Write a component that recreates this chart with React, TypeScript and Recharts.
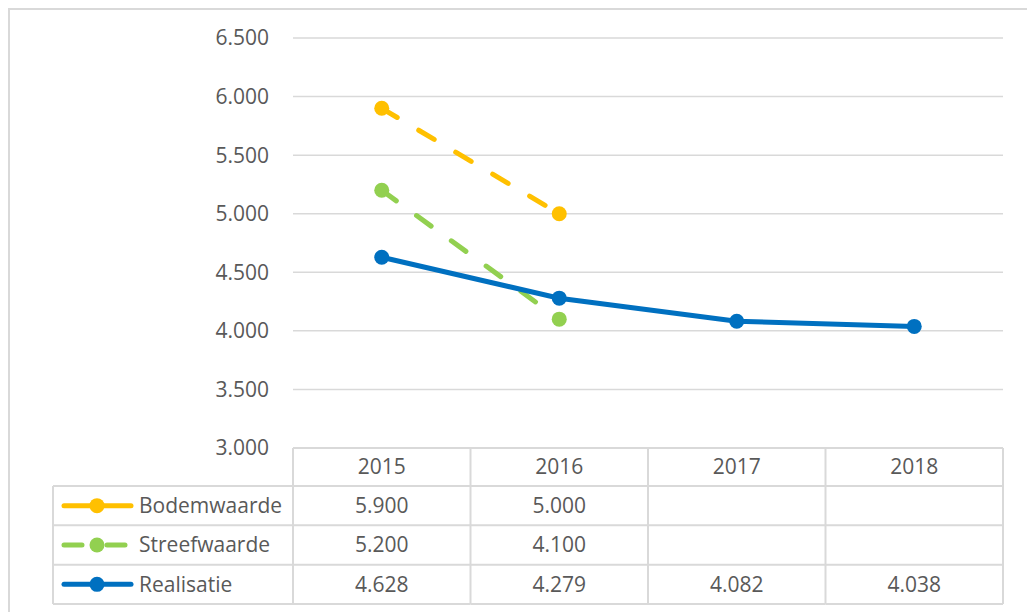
import React from 'react';
import { LineChart, Line, XAxis, YAxis, CartesianGrid } from 'recharts';

const years = ['2015', '2016', '2017', '2018'];
const bodemwaarde = [5900, 5000, null, null];
const streefwaarde = [5200, 4100, null, null];
const realisatie = [4628, 4279, 4082, 4038];
const yTicks = [3000, 3500, 4000, 4500, 5000, 5500, 6000, 6500];

// keyDashed: in the table legend only Streefwaarde is drawn dashed
const series = [
  { key: 'bodemwaarde', name: 'Bodemwaarde', values: bodemwaarde, color: '#FFC000', dashed: true, keyDashed: false },
  { key: 'streefwaarde', name: 'Streefwaarde', values: streefwaarde, color: '#92D050', dashed: true, keyDashed: true },
  { key: 'realisatie', name: 'Realisatie', values: realisatie, color: '#0070C0', dashed: false, keyDashed: false },
];

const data = years.map((year, i) => ({
  year,
  bodemwaarde: bodemwaarde[i],
  streefwaarde: streefwaarde[i],
  realisatie: realisatie[i],
}));

const WIDTH = 1017;
const HEIGHT = 602;
const Y_AXIS_W = 283;
const MARGIN = { top: 28, right: 24, left: 0, bottom: 0 };
const PLOT_W = WIDTH - Y_AXIS_W - MARGIN.right;
const COL_W = PLOT_W / years.length;
const LABEL_W = 240;
const HEADER_H = 38;
const ROW_H = 39.33;
const TABLE_H = HEADER_H + ROW_H * series.length;
const FONT = '"Open Sans", "Noto Sans", sans-serif';
const TEXT = '#595959';
const GRID = '#d9d9d9';
const DASH = '18 25';

const fmt = (v: number) => `${Math.floor(v / 1000)}.${String(v % 1000).padStart(3, '0')}`;

const LabelColumn = ({ left, y }: { left: number; y: number }) => {
  const tableLeft = left - LABEL_W;
  return (
    <g>
      <line x1={tableLeft} y1={y + HEADER_H} x2={tableLeft} y2={y + TABLE_H} stroke={GRID} strokeWidth={2} />
      {series.map((s, r) => {
        const top = y + HEADER_H + r * ROW_H;
        const cy = top + ROW_H / 2;
        return (
          <g key={s.key}>
            <line x1={tableLeft} y1={top} x2={left} y2={top} stroke={GRID} strokeWidth={2} />
            <line
              x1={tableLeft + 11}
              y1={cy}
              x2={tableLeft + 78}
              y2={cy}
              stroke={s.color}
              strokeWidth={5}
              strokeLinecap="round"
              strokeDasharray={s.keyDashed ? DASH : undefined}
            />
            <circle cx={tableLeft + 44} cy={cy} r={7.5} fill={s.color} />
            <text x={tableLeft + 86} y={cy} dy="0.35em" fill={TEXT} fontSize={21} fontFamily={FONT}>
              {s.name}
            </text>
          </g>
        );
      })}
      <line x1={tableLeft} y1={y + TABLE_H} x2={left} y2={y + TABLE_H} stroke={GRID} strokeWidth={2} />
    </g>
  );
};

const TableColumn = (props: any) => {
  const { x, y, index, payload } = props;
  const left = x - COL_W / 2;
  const right = x + COL_W / 2;
  return (
    <g>
      {index === 0 && <LabelColumn left={left} y={y} />}
      <line x1={left} y1={y} x2={left} y2={y + TABLE_H} stroke={GRID} strokeWidth={2} />
      {index === years.length - 1 && (
        <line x1={right} y1={y} x2={right} y2={y + TABLE_H} stroke={GRID} strokeWidth={2} />
      )}
      {series.map((s, r) => (
        <line
          key={s.key}
          x1={left}
          y1={y + HEADER_H + r * ROW_H}
          x2={right}
          y2={y + HEADER_H + r * ROW_H}
          stroke={GRID}
          strokeWidth={2}
        />
      ))}
      <line x1={left} y1={y + TABLE_H} x2={right} y2={y + TABLE_H} stroke={GRID} strokeWidth={2} />
      <text x={x} y={y + HEADER_H / 2} dy="0.35em" textAnchor="middle" fill={TEXT} fontSize={21} fontFamily={FONT}>
        {payload.value}
      </text>
      {series.map((s, r) => {
        const v = s.values[index];
        if (v == null) return null;
        return (
          <text
            key={s.key}
            x={x}
            y={y + HEADER_H + r * ROW_H + ROW_H / 2}
            dy="0.35em"
            textAnchor="middle"
            fill={TEXT}
            fontSize={21}
            fontFamily={FONT}
          >
            {fmt(v)}
          </text>
        );
      })}
    </g>
  );
};

export default function App() {
  return (
    <div
      style={{
        position: 'absolute',
        left: 8,
        top: 8,
        width: WIDTH,
        height: HEIGHT,
        borderLeft: `2px solid ${GRID}`,
        borderTop: `2px solid ${GRID}`,
        background: '#fff',
      }}
    >
      <LineChart width={WIDTH} height={HEIGHT} data={data} margin={MARGIN}>
        <CartesianGrid vertical={false} stroke={GRID} strokeWidth={1.5} />
        <XAxis
          dataKey="year"
          height={HEIGHT - MARGIN.top - 410}
          padding={{ left: COL_W / 2, right: COL_W / 2 }}
          interval={0}
          tickLine={false}
          tickSize={0}
          tickMargin={0}
          axisLine={{ stroke: GRID, strokeWidth: 2 }}
          tick={(p: any) => <TableColumn {...p} />}
        />
        <YAxis
          width={Y_AXIS_W}
          domain={[3000, 6500]}
          ticks={yTicks}
          axisLine={false}
          tickLine={false}
          tickSize={0}
          tickMargin={24}
          tickFormatter={fmt}
          tick={{ fill: TEXT, fontSize: 21, fontFamily: FONT }}
        />
        {series.map((s) => (
          <Line
            key={s.key}
            dataKey={s.key}
            name={s.name}
            stroke={s.color}
            strokeWidth={5}
            strokeLinecap="round"
            strokeDasharray={s.dashed ? DASH : undefined}
            dot={{ r: 7.5, fill: s.color, stroke: 'none', strokeDasharray: undefined }}
            activeDot={false}
            connectNulls={false}
            isAnimationActive={false}
          />
        ))}
      </LineChart>
    </div>
  );
}
